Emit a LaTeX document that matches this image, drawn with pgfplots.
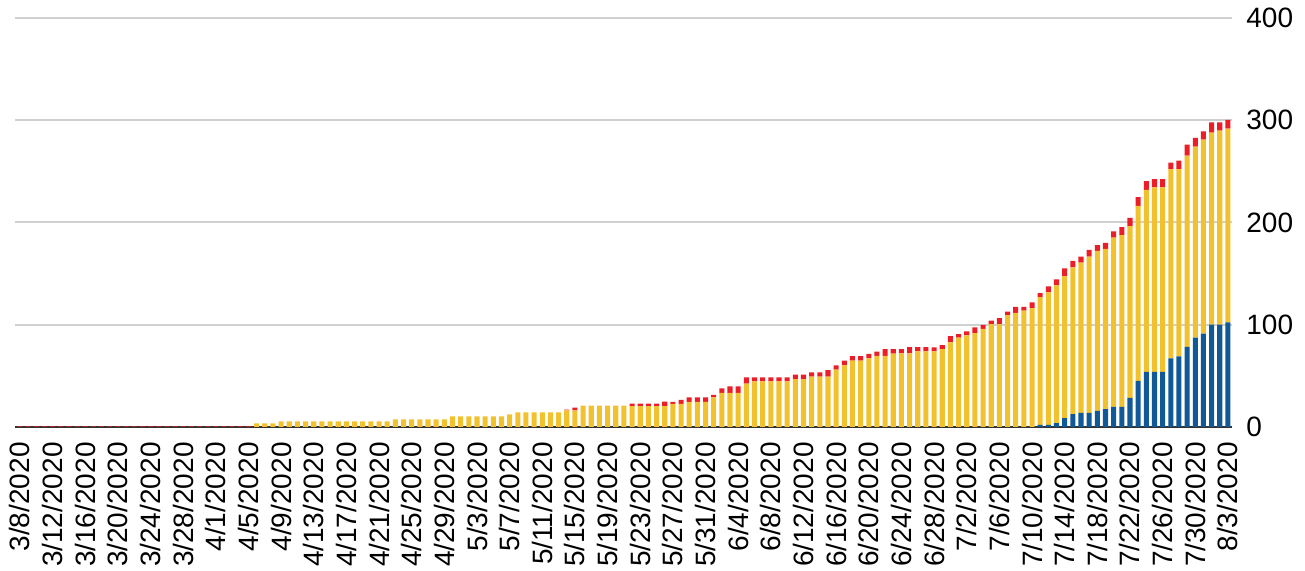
\documentclass[border=0pt]{standalone}
\usepackage{pgfplots}
\usepackage{pgfplotstable}
\pgfplotsset{compat=1.18}
\usepackage{fontspec}
\setmainfont{Liberation Sans}
\definecolor{cblue}{HTML}{105896}
\definecolor{cyellow}{HTML}{F2C12E}
\definecolor{cred}{HTML}{EB1E28}
\definecolor{cgrid}{HTML}{D0D0D0}
\definecolor{cbase}{HTML}{333333}
\pgfplotstableread{
d B Y R
0 0 0 0.7
1 0 0 0.7
2 0 0 0.7
3 0 0 0.7
4 0 0 0.7
5 0 0 0.7
6 0 0 0.7
7 0 0 0.7
8 0 0 0.7
9 0 0 0.7
10 0 0 0.7
11 0 0 0.7
12 0 0 0.7
13 0 0 0.7
14 0 0 0.7
15 0 0 0.7
16 0 0 0.7
17 0 0 0.7
18 0 0 0.7
19 0 0 0.7
20 0 0 0.7
21 0 0 0.7
22 0 0 0.7
23 0 0 0.7
24 0 0 0.7
25 0 0 0.7
26 0 0 0.7
27 0 0 0.7
28 0 0 0.7
29 0 3.6 0
30 0 3.6 0
31 0 3.6 0
32 0 5.5 0
33 0 5.5 0
34 0 5.5 0
35 0 5.5 0
36 0 5.5 0
37 0 5.5 0
38 0 5.5 0
39 0 5.5 0
40 0 5.5 0
41 0 5.5 0
42 0 5.5 0
43 0 5.5 0
44 0 5.5 0
45 0 5.5 0
46 0 7.5 0
47 0 7.5 0
48 0 7.5 0
49 0 7.5 0
50 0 7.5 0
51 0 7.5 0
52 0 7.5 0
53 0 10.4 0
54 0 10.4 0
55 0 10.4 0
56 0 10.4 0
57 0 10.4 0
58 0 10.4 0
59 0 10.4 0
60 0 12.4 0
61 0 14.4 0
62 0 14.4 0
63 0 14.4 0
64 0 14.4 0
65 0 14.4 0
66 0 14.4 0
67 0 16.3 0.8
68 0 16.3 2.6
69 0 21 0
70 0 21 0
71 0 21 0
72 0 21 0
73 0 21 0
74 0 21 0
75 0 20.5 2.4
76 0 20.5 2.4
77 0 20.5 2.4
78 0 20.5 2.4
79 0 20.5 4.3
80 0 22.6 2.0
81 0 22.6 4.0
82 0 24.6 4.3
83 0 24.6 4.3
84 0 24.6 4.3
85 0 28.9 2.6
86 0 33.4 4.3
87 0 33.4 6.3
88 0 33.4 6.3
89 0 42.3 6.2
90 0 44.6 3.9
91 0 44.6 3.9
92 0 44.6 3.9
93 0 44.6 3.9
94 0 44.6 3.9
95 0 46.9 4.2
96 0 46.9 4.2
97 0 49.2 4.2
98 0 49.2 4.2
99 0 49.2 6.5
100 0 56.1 4.2
101 0 60.3 4.6
102 0 64.9 4.3
103 0 64.9 4.3
104 0 67.2 4.3
105 0 69.5 4.3
106 0 69.5 6.6
107 0 71.8 4.3
108 0 71.9 4.2
109 0 71.9 6.1
110 0 73.9 4.1
111 0 73.9 4.1
112 0 73.9 3.9
113 0 76.1 4.0
114 0 82.7 6.2
115 0 87.3 3.5
116 0 89.5 4.0
117 0 91.8 5.6
118 0 96.0 3.9
119 0 100.5 3.6
120 0 100.5 5.9
121 0 109.3 3.6
122 0 111.6 6.0
123 0 113.9 3.7
124 0 116.3 5.6
125 2 125.1 3.9
126 2 129.7 5.9
127 3.9 134.7 5.8
128 8.8 138.6 7.8
129 12.7 143.5 6.2
130 13.7 147.1 5.9
131 13.7 153.0 6.5
132 15.7 156.6 5.5
133 17.6 156.6 5.9
134 19.6 165.7 5.9
135 19.6 168.0 7.8
136 28.4 168.0 8.2
137 45.1 171.2 8.5
138 53.9 178.1 8.5
139 53.9 180.4 8.2
140 53.9 180.4 8.2
141 67.0 185.3 6.2
142 69.0 183.3 8.2
143 78.4 187.0 10.7
144 87.3 186.9 8.5
145 91.2 189.8 8.2
146 100.0 187.9 10.1
147 100.0 189.9 8.1
148 102.3 189.5 8.5
}\datatable
\begin{document}
\begin{tikzpicture}
\path[use as bounding box] (-7.5pt,-72pt) rectangle (645pt,213.5pt);
\begin{axis}[
  at={(0,0)}, anchor=south west,
  scale only axis, width=608.5pt, height=204.5pt,
  xmin=-0.6, xmax=148.5, ymin=0, ymax=400,
  ybar stacked, bar width=0.62,
  axis x line*=bottom, axis y line*=right,
  x axis line style={draw=cbase, line width=1.35pt, -},
  y axis line style={draw=none},
  major tick length=0pt,
  ytick={0,100,200,300,400},
  ymajorgrids, grid style={draw=cgrid, line width=1pt},
  yticklabel pos=right,
  yticklabel style={anchor=west, inner sep=0pt, xshift=7pt},
  xtick={0,4,...,148},
  xticklabels={3/8/2020,3/12/2020,3/16/2020,3/20/2020,3/24/2020,3/28/2020,4/1/2020,4/5/2020,4/9/2020,4/13/2020,4/17/2020,4/21/2020,4/25/2020,4/29/2020,5/3/2020,5/7/2020,5/11/2020,5/15/2020,5/19/2020,5/23/2020,5/27/2020,5/31/2020,6/4/2020,6/8/2020,6/12/2020,6/16/2020,6/20/2020,6/24/2020,6/28/2020,7/2/2020,7/6/2020,7/10/2020,7/14/2020,7/18/2020,7/22/2020,7/26/2020,7/30/2020,8/3/2020},
  xticklabel style={rotate=90, anchor=east, inner sep=0pt},
  xticklabel shift=7.5pt,
  tick label style={font=\fontsize{14}{17}\selectfont},
  /pgf/number format/assume math mode=true,
]
\addplot[fill=cblue, draw=none] table[x=d, y=B] {\datatable};
\addplot[fill=cyellow, draw=none] table[x=d, y=Y] {\datatable};
\addplot[fill=cred, draw=none] table[x=d, y=R] {\datatable};
\end{axis}
\end{tikzpicture}
\end{document}
